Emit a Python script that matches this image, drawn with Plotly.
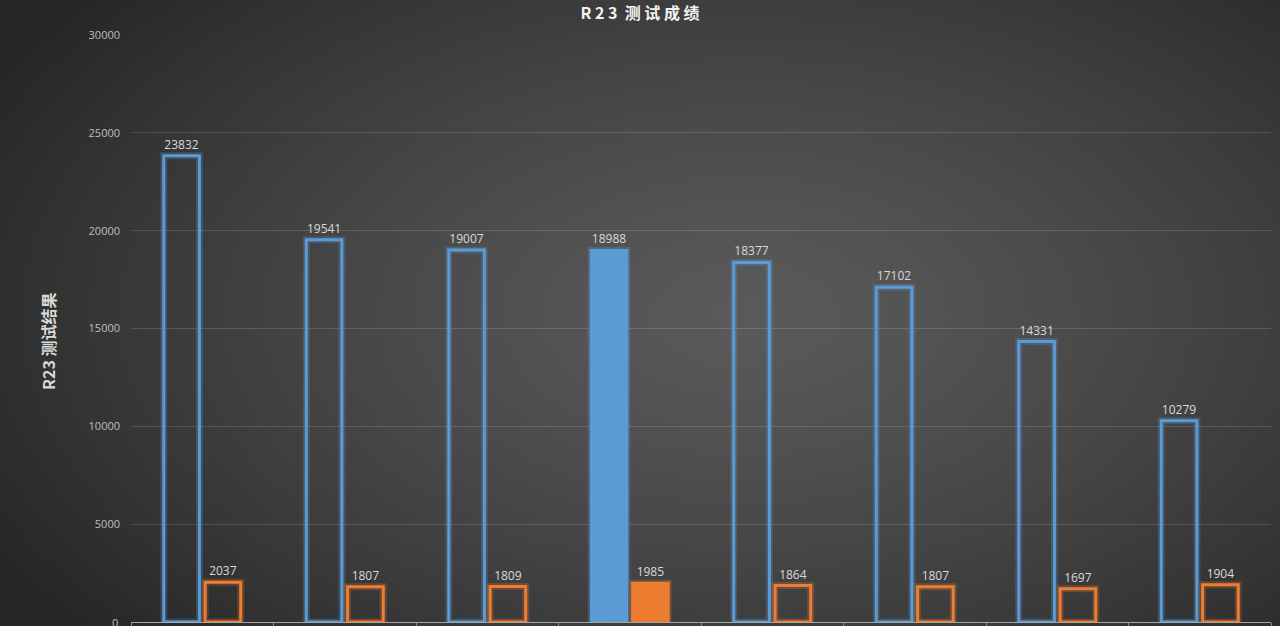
import base64
import struct
import zlib

import numpy as np
import plotly.graph_objects as go

# ---------------------------------------------------------------------------
# 데이터 (카테고리 이름은 원본에서 잘려 보이지 않음)
# ---------------------------------------------------------------------------
categories = ["1", "2", "3", "4", "5", "6", "7", "8"]
multi_core = [23832, 19541, 19007, 18988, 18377, 17102, 14331, 10279]
single_core = [2037, 1807, 1809, 1985, 1864, 1807, 1697, 1904]
highlight = 3  # 색이 채워진 막대 인덱스

BLUE = "#5b9bd5"
ORANGE = "#ed7d31"


def _png_uri(rgb):
    """numpy RGB 배열 -> PNG data URI."""
    h, w, _ = rgb.shape
    raw = b"".join(b"\x00" + rgb[i].tobytes() for i in range(h))

    def chunk(tag, data):
        c = struct.pack(">I", len(data)) + tag + data
        return c + struct.pack(">I", zlib.crc32(tag + data) & 0xFFFFFFFF)

    png = b"\x89PNG\r\n\x1a\n"
    png += chunk(b"IHDR", struct.pack(">IIBBBBB", w, h, 8, 2, 0, 0, 0))
    png += chunk(b"IDAT", zlib.compress(raw, 9))
    png += chunk(b"IEND", b"")
    return "data:image/png;base64," + base64.b64encode(png).decode()


# 방사형 그라데이션 배경
W, H = 320, 157
yy, xx = np.mgrid[0:H, 0:W]
d = np.sqrt(((xx / W - 0.58) / 0.68) ** 2 + ((yy / H - 0.5) / 0.8) ** 2)
d = np.clip(d, 0, 1)
val = 90 - (90 - 38) * d ** 1.3
bg = np.repeat(val[:, :, None], 3, axis=2).astype(np.uint8)


def _fill(color):
    return [color if i == highlight else "rgba(0,0,0,0)" for i in range(len(categories))]


fig = go.Figure()

bar_w = 0.25
blue_off = -0.27
orange_off = 0.02

# 글로우(번짐) 효과용 두꺼운 반투명 테두리
for vals, col, off in [(multi_core, "rgba(91,155,213,0.25)", blue_off),
                       (single_core, "rgba(237,125,49,0.25)", orange_off)]:
    fig.add_trace(go.Bar(
        x=categories, y=vals, offset=off, width=bar_w,
        marker=dict(color="rgba(0,0,0,0)", line=dict(color=col, width=7)),
        hoverinfo="skip", showlegend=False,
    ))

for vals, col, off, name in [(multi_core, BLUE, blue_off, "多核"),
                             (single_core, ORANGE, orange_off, "单核")]:
    fig.add_trace(go.Bar(
        x=categories, y=vals, offset=off, width=bar_w, name=name,
        marker=dict(color=_fill(col), line=dict(color=col, width=3)),
        text=vals, textposition="outside", cliponaxis=False,
        textfont=dict(color="#d9d9d9", size=12, family="Open Sans"),
        showlegend=False,
    ))

fig.add_layout_image(
    source=_png_uri(bg), xref="paper", yref="paper",
    x=-131 / 1139, y=1 + 35 / 587, sizex=1280 / 1139, sizey=626 / 587,
    sizing="stretch", layer="below", xanchor="left", yanchor="top",
)

fig.add_annotation(
    text="<b>R23 测试结果</b>", xref="paper", yref="paper",
    x=(48 - 131) / 1139, y=(622 - 341) / 587, xanchor="center", yanchor="middle",
    textangle=-90, showarrow=False,
    font=dict(size=16, color="#d9d9d9", family="Noto Sans CJK SC"),
)

# 아래 가장자리에서 잘리는 "0" 눈금 라벨
fig.add_annotation(
    text="0", xref="paper", yref="y", x=(120 - 131) / 1139, y=0,
    xanchor="right", yanchor="middle", showarrow=False,
    font=dict(size=11, color="#bfbfbf", family="Open Sans"),
)

fig.update_layout(
    width=1280, height=626,
    barmode="overlay",
    title=dict(text="<b>R 2 3  测 试 成 绩</b>", x=0.5, xref="container", xanchor="center",
               y=1 - 13 / 626, yanchor="middle",
               font=dict(size=16, color="#f2f2f2", family="Noto Sans CJK SC")),
    margin=dict(l=131, r=9, t=35, b=4),
    paper_bgcolor="#2c2c2c",
    plot_bgcolor="rgba(0,0,0,0)",
    font=dict(family="Open Sans", color="#bfbfbf"),
    xaxis=dict(showticklabels=False, tickson="boundaries", ticks="outside", ticklen=6,
               tickcolor="#8c8c8c", showline=True, linecolor="#a6a6a6", linewidth=1,
               showgrid=False, automargin=False),
    yaxis=dict(range=[0, 30000], dtick=5000, tickformat="d", showgrid=True,
               gridcolor="rgba(255,255,255,0.14)", zeroline=False, showline=False,
               tickfont=dict(size=11, color="#bfbfbf"), ticklabelstandoff=10,
               automargin=False),
)

fig.write_html("out.html", config={"displayModeBar": False},
               post_script="document.body.style.margin='0';")
